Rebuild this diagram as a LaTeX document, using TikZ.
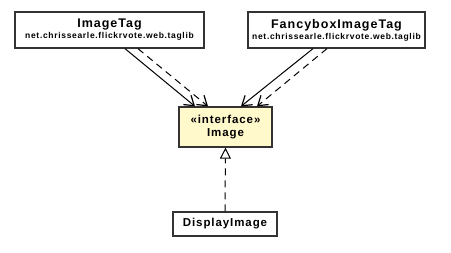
\documentclass[tikz,border=0pt]{standalone}
\usepackage{fontspec}
\setmainfont{Liberation Sans}
\usetikzlibrary{arrows.meta}
\definecolor{edge}{HTML}{333333}
\definecolor{ifacefill}{HTML}{FFF9CC}
\newfontfamily\umlfont[LetterSpace=8]{Liberation Sans}
\begin{document}
\begin{tikzpicture}[x=1pt,y=-1pt,
  classbox/.style={draw=edge, line width=1.3pt, fill=white, rectangle, inner sep=0pt, align=center, font=\umlfont\bfseries},
  depend/.style={line width=1pt, -{Straight Barb[length=9pt,width=12pt,line width=1.2pt]}},
  realize/.style={line width=1pt, dash pattern=on 7pt off 5pt, -{Triangle[open,length=11pt,width=11pt,line width=1pt,fill=white]}},
  dashline/.style={dash pattern=on 7pt off 5pt}]
\useasboundingbox (0,0) rectangle (451,253);
% classes
\node[classbox, minimum width=189pt, minimum height=36pt] (it) at (109.5,30)
  {\fontsize{12.5}{13}\selectfont ImageTag\\[-1pt]\fontsize{8.5}{10}\selectfont net.chrissearle.flickrvote.web.taglib};
\node[classbox, minimum width=177pt, minimum height=36pt] (ft) at (336.5,30)
  {\fontsize{12.5}{13}\selectfont FancyboxImageTag\\[-1pt]\fontsize{8.5}{10}\selectfont net.chrissearle.flickrvote.web.taglib};
\node[classbox, fill=ifacefill, minimum width=93pt, minimum height=40pt] (img) at (225.5,127)
  {\fontsize{11.5}{13}\selectfont «interface»\\[1pt]\fontsize{11.5}{13}\selectfont Image};
\node[classbox, minimum width=104pt, minimum height=24pt] (di) at (225,224)
  {\fontsize{11.5}{13}\selectfont DisplayImage};
% dependencies on the interface
\draw[depend] ([xshift=15.5pt]it.south) -- ([xshift=-30.5pt]img.north);
\draw[depend, dashline] ([xshift=28.5pt]it.south) -- ([xshift=-17.5pt]img.north);
\draw[depend] ([xshift=-23.5pt]ft.south) -- ([xshift=15.5pt]img.north);
\draw[depend, dashline] ([xshift=-9.5pt]ft.south) -- ([xshift=31.5pt]img.north);
% realization
\draw[realize] (di.north) -- (img.south);
\end{tikzpicture}
\end{document}
